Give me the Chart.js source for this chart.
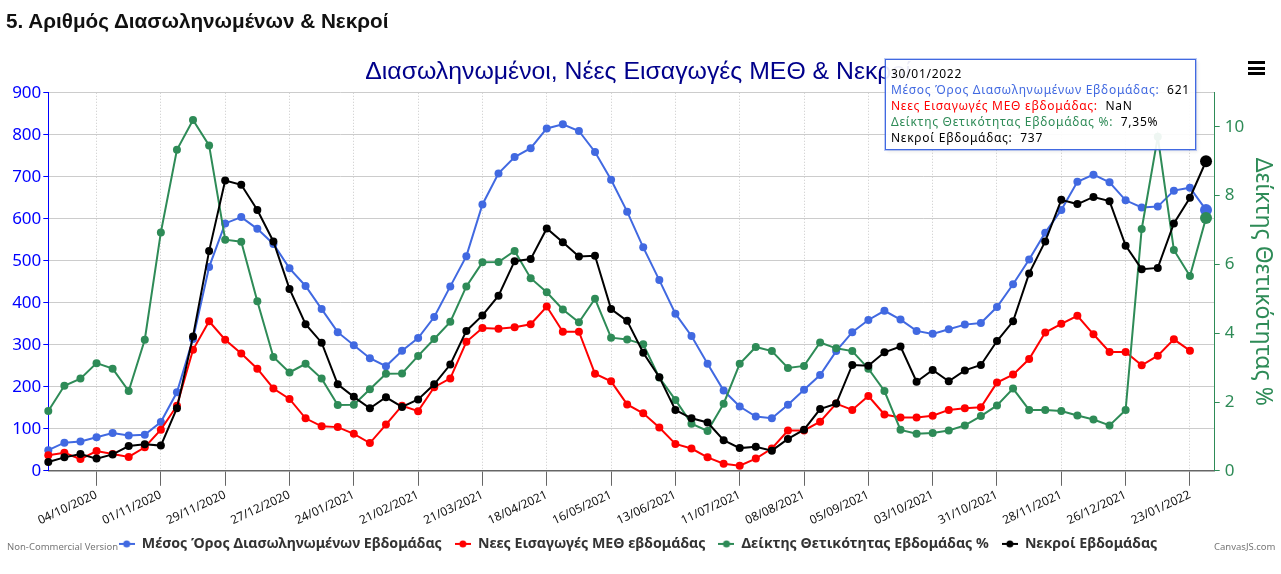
<!DOCTYPE html>
<html lang="el">
<head>
<meta charset="utf-8">
<title>Αριθμός Διασωληνωμένων & Νεκροί</title>
<script src="https://cdn.jsdelivr.net/npm/chart.js@4"></script>
<style>
    html, body { margin: 0; padding: 0; background: #fff; overflow: hidden; }
    #wrap { position: relative; width: 1281px; height: 574px; }
    #heading { position: absolute; left: 6px; top: 9px; margin: 0; font: bold 20.7px "Liberation Sans", Arial, sans-serif; color: #111; }
    .credit { position: absolute; top: 540px; font: 9.5px "Noto Sans", sans-serif; color: #777; }
    #menu { position: absolute; left: 1248px; top: 61px; width: 17px; height: 14px; border-top: 3px solid #000; border-bottom: 3px solid #000; box-sizing: border-box; }
    #menu::after { content: ""; display: block; height: 3px; margin-top: 2.5px; background: #000; }
    #tooltip { position: absolute; left: 885px; top: 59px; width: 311px; height: 91px; padding: 6px 0 0 5px; box-sizing: border-box;
        border: 1px solid #4169e1; background: rgba(255,255,255,0.92); box-shadow: 0 0 0 1px rgba(65,105,225,0.35), 2px 2px 3px rgba(0,0,0,0.08);
        font: 12px/16px "Noto Sans", sans-serif; letter-spacing: 0.72px; color: #000; white-space: pre; }
</style>
</head>
<body>
<div id="wrap">
    <canvas id="chart" width="1281" height="574"></canvas>
    <h1 id="heading">5. Αριθμός Διασωληνωμένων &amp; Νεκροί</h1>
    <div id="menu"></div>
    <div id="tooltip"></div>
    <span class="credit" style="left:7px">Non-Commercial Version</span>
    <span class="credit" style="left:1214px">CanvasJS.com</span>
</div>
<script>
/* ==========================================================================
   DATA (weekly)
   ========================================================================== */
const hospitalized = [49,67,70,80,90,84,86,116,187,314,485,589,604,576,540,482,440,385,330,299,268,249,286,316,
    366,439,511,634,708,747,768,815,825,809,759,693,617,532,454,374,321,255,191,153,129,125,157,193,228,285,
    330,359,381,360,333,326,337,348,352,390,444,503,567,621,688,705,687,644,627,629,667,674,621];
const icuAdmissions = [37,43,28,47,40,33,56,98,155,288,356,312,279,243,196,171,125,106,104,88,66,110,155,142,
    199,220,307,340,338,342,349,391,331,331,231,213,158,137,103,64,53,32,17,12,29,53,96,96,117,160,
    145,178,134,127,127,131,145,149,151,210,229,266,329,350,369,325,283,283,251,274,313,286,null];
const positivity = [1.74,2.47,2.68,3.13,2.97,2.32,3.81,6.93,9.33,10.2,9.46,6.72,6.66,4.93,3.31,2.86,3.11,2.68,1.91,1.92,2.37,2.82,2.83,3.34,
    3.83,4.33,5.36,6.06,6.07,6.39,5.60,5.19,4.69,4.32,5.0,3.87,3.82,3.68,2.71,2.06,1.37,1.16,1.95,3.11,3.60,3.48,2.99,3.05,3.73,3.56,
    3.48,2.97,2.32,1.19,1.08,1.10,1.17,1.32,1.59,1.90,2.39,1.77,1.77,1.74,1.61,1.49,1.32,1.77,7.03,9.71,6.42,5.66,7.35];
const deaths = [21,32,40,29,39,59,63,60,149,320,523,691,681,621,546,433,349,305,206,176,149,175,152,170,
    206,253,333,370,417,499,504,577,544,510,512,385,357,281,223,145,125,115,73,54,57,48,76,98,147,160,
    252,250,282,296,212,240,213,239,252,309,356,470,546,645,635,652,642,536,480,483,589,650,737];

// Sundays from 13/09/2020
const weeks = hospitalized.map((_, i) => {
    const d = new Date(Date.UTC(2020, 8, 13 + i * 7));
    const pad = n => String(n).padStart(2, "0");
    return `${pad(d.getUTCDate())}/${pad(d.getUTCMonth() + 1)}/${d.getUTCFullYear()}`;
});

const FONT = '"Noto Sans", sans-serif';
const COLORS = { blue: "#4169e1", red: "#ff0000", green: "#2e8b57", black: "#000000" };

/* ==========================================================================
   HELPERS
   ========================================================================== */
function makeSeries(label, data, color, yAxisID, order) {
    const last = data.length - 1;
    return {
        label, data: data.map((y, x) => ({ x, y })), yAxisID, order,
        borderColor: color, backgroundColor: color, borderWidth: 2, tension: 0, clip: false,
        pointRadius: data.map((_, i) => i === last ? 6 : 4),
        pointBorderWidth: 0
    };
}

// legend marker: short line with a dot on it
function legendMarker(color) {
    const c = document.createElement("canvas");
    c.width = 16; c.height = 8;
    const g = c.getContext("2d");
    g.fillStyle = color;
    g.fillRect(0, 3, 16, 2);
    g.beginPath();
    g.arc(8, 4, 3.5, 0, Math.PI * 2);
    g.fill();
    return c;
}

function renderTooltip() {
    const i = weeks.length - 1;
    const row = (label, value, color) => `<span style="color:${color}">${label}:</span>  ${value}`;
    document.getElementById("tooltip").innerHTML = [
        weeks[i],
        row("Μέσος Όρος Διασωληνωμένων Εβδομάδας", hospitalized[i], COLORS.blue),
        row("Νεες Εισαγωγές ΜΕΘ εβδομάδας", icuAdmissions[i] === null ? "NaN" : icuAdmissions[i], COLORS.red),
        row("Δείκτης Θετικότητας Εβδομάδας %", String(positivity[i]).replace(".", ",") + "%", COLORS.green),
        row("Νεκροί Εβδομάδας", deaths[i], COLORS.black)
    ].join("\n");
}

/* ==========================================================================
   CHART
   ========================================================================== */
new Chart(document.getElementById("chart").getContext("2d"), {
    type: "line",
    data: {
        datasets: [
            makeSeries("Μέσος Όρος Διασωληνωμένων Εβδομάδας", hospitalized, COLORS.blue, "y", 4),
            makeSeries("Νεες Εισαγωγές ΜΕΘ εβδομάδας", icuAdmissions, COLORS.red, "y", 3),
            makeSeries("Δείκτης Θετικότητας Εβδομάδας %", positivity, COLORS.green, "y2", 2),
            makeSeries("Νεκροί Εβδομάδας", deaths, COLORS.black, "y", 1)
        ]
    },
    options: {
        responsive: false,
        animation: false,
        devicePixelRatio: 1,
        events: [],
        layout: { padding: { top: 57, bottom: 13, right: 5 } },
        plugins: {
            tooltip: { enabled: false },
            title: {
                display: true,
                text: "Διασωληνωμένοι, Νέες Εισαγωγές ΜΕΘ & Νεκροί",
                color: "#00008b",
                font: { family: '"Liberation Sans", Arial, sans-serif', size: 24.8, weight: "normal" },
                padding: { top: 0, bottom: 6 }
            },
            legend: {
                position: "bottom",
                labels: {
                    color: "#333",
                    font: { family: FONT, size: 14.2, weight: "bold" },
                    usePointStyle: true,
                    pointStyleWidth: 16,
                    padding: 13,
                    generateLabels: chart => chart.data.datasets.map((ds, i) => ({
                        text: ds.label,
                        datasetIndex: i,
                        fontColor: "#333",
                        lineWidth: 0,
                        pointStyle: legendMarker(ds.borderColor)
                    }))
                }
            }
        },
        scales: {
            x: {
                type: "linear",
                min: 0,
                max: 72.54,
                afterBuildTicks: scale => {
                    // a labelled tick every 4 weeks, starting at 04/10/2020
                    const ticks = [];
                    for (let v = 3; v < weeks.length; v += 4) ticks.push({ value: v });
                    scale.ticks = ticks;
                },
                afterFit: scale => { scale.height = 53; },
                ticks: {
                    autoSkip: false,
                    minRotation: 25,
                    maxRotation: 25,
                    padding: 2,
                    color: "#111",
                    font: { family: FONT, size: 12 },
                    callback: v => weeks[v]
                },
                grid: { color: "#c8c8c8", tickColor: "#666", tickLength: 15, lineWidth: 1 },
                border: { color: "#666", width: 1.5, dash: [1, 2] }
            },
            y: {
                position: "left",
                min: 0,
                max: 900,
                afterFit: scale => { scale.width = 48.3; },
                ticks: { stepSize: 100, color: "#0000ff", padding: 2, font: { family: FONT, size: 17 } },
                grid: { color: "#cccccc", tickColor: "#0000ff", tickLength: 5 },
                border: { color: "#0000ff", width: 1 }
            },
            y2: {
                position: "right",
                min: 0,
                max: 10.99,
                afterBuildTicks: scale => {
                    scale.ticks = [0, 2, 4, 6, 8, 10].map(value => ({ value }));
                },
                afterFit: scale => { scale.width = 61.3; },
                title: {
                    display: true,
                    text: "Δείκτης Θετικότητας %",
                    color: COLORS.green,
                    padding: 0,
                    font: { family: FONT, size: 23 }
                },
                ticks: { color: COLORS.green, padding: 5, font: { family: FONT, size: 17 } },
                grid: { drawOnChartArea: false, color: COLORS.green, tickLength: 5 },
                border: { color: COLORS.green, width: 1 }
            }
        }
    }
});

renderTooltip();
</script>
</body>
</html>
